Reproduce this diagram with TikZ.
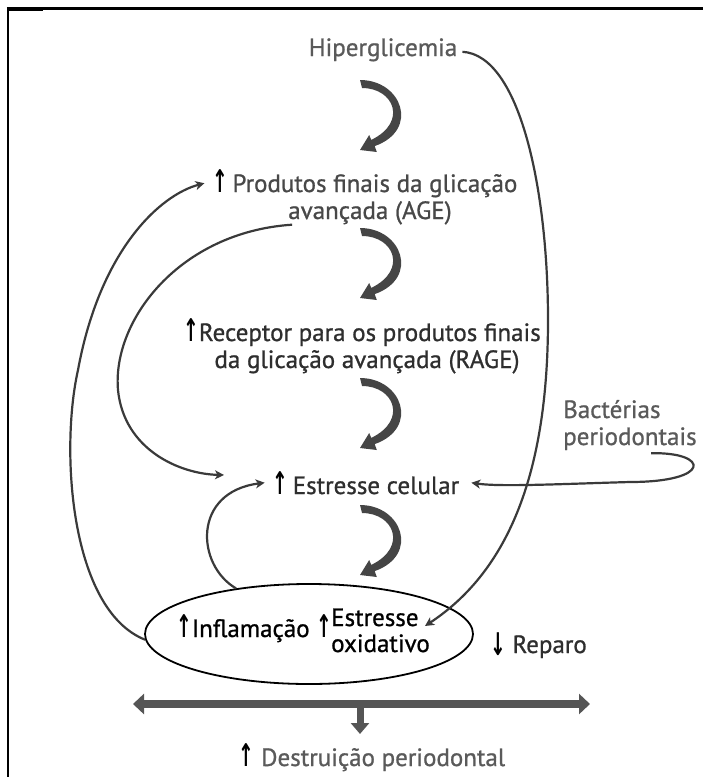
\documentclass[tikz,border=0pt]{standalone}
\usepackage{fontspec}
\setmainfont{PT Sans}[BoldFont={PT Sans}, BoldFeatures={FakeBold=0.9}]
\newfontfamily\arrfont{DejaVu Sans}
\usetikzlibrary{shapes.geometric,arrows.meta}
\newcommand{\upar}{\textcolor{black}{\scalebox{0.75}[1.25]{\arrfont\bfseries\char"2191}}}
\newcommand{\downar}{\textcolor{black}{\raisebox{-2pt}{\scalebox{0.75}[1.25]{\arrfont\bfseries\char"2193}}}}
\definecolor{linegray}{HTML}{3A3A3A}
\definecolor{crgray}{HTML}{454545}
\definecolor{bargray}{HTML}{555555}
\definecolor{tgray}{HTML}{5A5A5A}
\definecolor{tmid}{HTML}{484848}
\definecolor{tdark}{HTML}{2E2E2E}
\begin{document}
\begin{tikzpicture}[x=1pt,y=-1pt,
  txt/.style={font=\fontsize{25}{27}\selectfont\bfseries, inner sep=0pt, anchor=base},
  conn/.style={draw=linegray, line width=2.2pt, -{Stealth[length=9pt,width=9pt,inset=2.5pt]}},
  crescent/.pic={\fill[crgray] (0,0) .. controls (42,0) and (60,50) .. (14.7,66.1) -- (16.8,72) -- (0,70) -- (9.2,55) -- (11.3,59.9) .. controls (48,42) and (34,8) .. (2,8) -- cycle;}
]
\useasboundingbox (0,0) rectangle (703,777);
% frame
\draw[line width=2.5pt] (8,777) -- (8,8.5) -- (703,8.5);
\draw[line width=3.2pt] (6.75,9) -- (43,9);

% texts
\node[txt, text=tgray] (hip) at (383,56) {Hiperglicemia};
\node[txt, text=tmid] (age1) at (365,192) {\upar\,Produtos finais da glicação};
\node[txt, text=tmid] (age2) at (370,219) {avançada (AGE)};
\node[txt, text=tdark] (rage1) at (362,341) {\upar Receptor para os produtos finais};
\node[txt, text=tdark] (rage2) at (367,368) {da glicação avançada (RAGE)};
\node[txt, text=tgray, anchor=base west] (bac1) at (563,418) {Bactérias};
\node[txt, text=tgray, anchor=base west] (bac2) at (563,445) {periodontais};
\node[txt, text=tdark] (est) at (366,494) {\upar\,Estresse celular};

\node[ellipse, draw=black, line width=1.8pt, minimum width=328pt, minimum height=100pt, inner sep=0pt] (ell) at (309,634) {};
\node[txt, text=black, anchor=base west] (infl) at (176,637) {\upar Inflamação};
\node[txt, text=black, anchor=base west] (upox) at (316,637) {\upar};
\node[txt, text=black, anchor=base west] (oxi1) at (331,626) {Estresse};
\node[txt, text=black, anchor=base west] (oxi2) at (331,652) {oxidativo};
\node[txt, text=tdark, anchor=base west] (rep) at (490,653) {\downar\ Reparo};
\node[txt, text=tgray] (dest) at (372,766) {\upar\ Destruição periodontal};

% thick curved arrows
\pic at (360,80) {crescent};
\pic at (360,228) {crescent};
\pic at (360,378) {crescent};
\pic at (360,505) {crescent};

% connectors
\coordinate (oxend) at (425,626);
\coordinate (ageend) at (224,475);
\draw[conn] ([xshift=5pt,yshift=-2pt]hip.east) .. controls (520,55) and (548,190) .. (548,320) .. controls (548,470) and (510,570) .. (oxend);
\draw[conn] (ell.182) .. controls (70,610) and (60,450) .. (78,370) .. controls (100,250) and (160,195) .. ([xshift=-8pt]age1.west);
\draw[conn] ([xshift=4pt]age2.south west) .. controls (180,232) and (112,320) .. (118,390) .. controls (124,450) and (180,474) .. (ageend);
\draw[conn] (ell.148) .. controls (196,565) and (192,492) .. ([xshift=-8pt]est.west);
\draw[conn] ([xshift=88pt,yshift=-3pt]bac2.south west) .. controls (710,452) and (712,482) .. (630,482) .. controls (560,484) and (500,487) .. ([xshift=12pt]est.east);

% bottom bar
\coordinate (barL) at (133,704);
\coordinate (barR) at (590,704);
\coordinate (barM) at (360,704);
\draw[bargray, line width=8pt, {Triangle[length=11pt,width=20pt]}-{Triangle[length=11pt,width=20pt]}] (barL) -- (barR);
\draw[bargray, line width=7pt, -{Triangle[length=11pt,width=18pt]}] (barM) -- ([yshift=-30pt]barM);
\end{tikzpicture}
\end{document}
